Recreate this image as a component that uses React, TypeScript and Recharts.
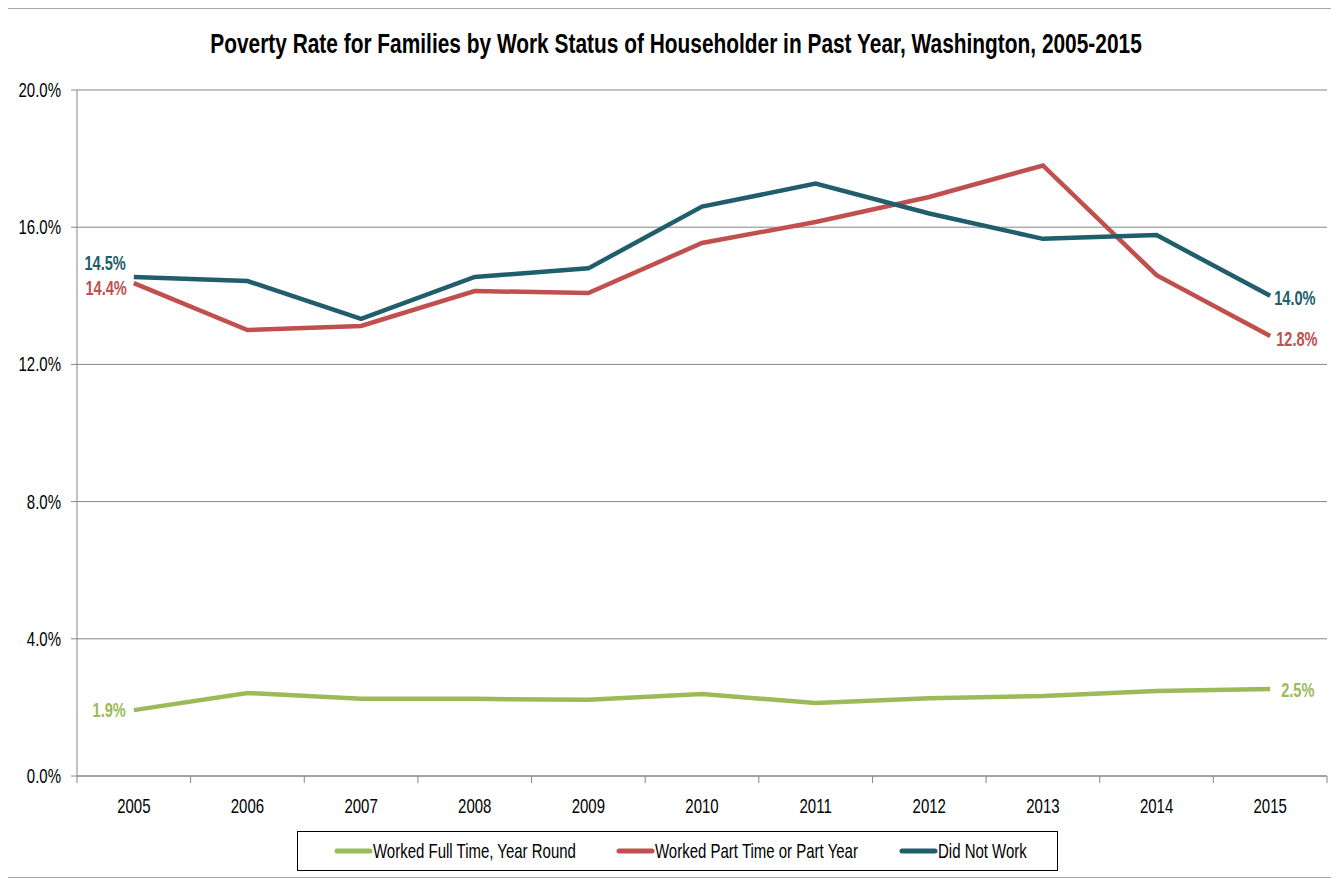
import { LineChart, Line, XAxis, YAxis, CartesianGrid } from 'recharts'

const years = ['2005', '2006', '2007', '2008', '2009', '2010', '2011', '2012', '2013', '2014', '2015']
const fullTime = [1.92, 2.42, 2.25, 2.25, 2.22, 2.39, 2.13, 2.27, 2.33, 2.48, 2.54]
const partTime = [14.37, 13.0, 13.12, 14.14, 14.08, 15.54, 16.15, 16.88, 17.8, 14.6, 12.83]
const didNotWork = [14.55, 14.43, 13.33, 14.55, 14.8, 16.6, 17.27, 16.4, 15.66, 15.77, 14.0]
const yTicks = [0, 4, 8, 12, 16, 20]

const series = [
    { key: 'full', name: 'Worked Full Time, Year Round', color: '#9BBB59', first: '1.9%', last: '2.5%', off: [[-8, 7], [11, 8]] },
    { key: 'part', name: 'Worked Part Time or Part Year', color: '#C0504D', first: '14.4%', last: '12.8%', off: [[-7, 12], [6, 10]] },
    { key: 'none', name: 'Did Not Work', color: '#215E6C', first: '14.5%', last: '14.0%', off: [[-8, -7], [4, 9]] },
]

const data = years.map((year, i) => ({
    year,
    full: fullTime[i],
    part: partTime[i],
    none: didNotWork[i],
}))

const FONT = '"Liberation Sans", Arial, sans-serif'
const SQUASH = 0.75
const AXIS = '#868686'

// narrow text: the chart uses a condensed face, so squeeze a regular one
function NText({ x, y, anchor = 'start', size = 20, bold = false, fill = '#000', squash = SQUASH, children }: any) {
    return (
        <text
            transform={`translate(${x},${y}) scale(${squash},1)`}
            textAnchor={anchor}
            fontFamily={FONT}
            fontSize={size}
            fontWeight={bold ? 'bold' : 'normal'}
            fill={fill}
        >
            {children}
        </text>
    )
}

function endLabel(s: (typeof series)[number]) {
    return (props: any) => {
        const { x, y, index } = props
        const last = years.length - 1
        if (index !== 0 && index !== last) return null
        const isFirst = index === 0
        const [dx, dy] = isFirst ? s.off[0] : s.off[1]
        return (
            <NText key={`${s.key}-${index}`} x={x + dx} y={y + dy} anchor={isFirst ? 'end' : 'start'} size={19.5} bold fill={s.color}>
                {isFirst ? s.first : s.last}
            </NText>
        )
    }
}

function XTick(props: any) {
    const { x, y, payload, index } = props
    const half = payload.offset || 0
    return (
        <g>
            <line x1={x - half} x2={x - half} y1={y} y2={y + 7} stroke={AXIS} />
            {index === years.length - 1 && <line x1={x + half} x2={x + half} y1={y} y2={y + 7} stroke={AXIS} />}
            <NText x={x} y={y + 37} anchor="middle">
                {payload.value}
            </NText>
        </g>
    )
}

function YTick(props: any) {
    const { x, y, payload } = props
    return (
        <NText x={x} y={y + 7} anchor="end">
            {`${Number(payload.value).toFixed(1)}%`}
        </NText>
    )
}

const legendX = [38, 320, 603]

function LegendBox() {
    return (
        <svg
            width={761}
            height={40}
            style={{ position: 'absolute', left: 289, top: 822 }}
        >
            <rect x={0.5} y={0.5} width={760} height={39} fill="#fff" stroke="#000" />
            {series.map((s, i) => (
                <g key={s.key}>
                    <line x1={legendX[i] + 2} x2={legendX[i] + 35} y1={20} y2={20} stroke={s.color} strokeWidth={5} strokeLinecap="round" />
                    <NText x={legendX[i] + 38} y={27}>
                        {s.name}
                    </NText>
                </g>
            ))}
        </svg>
    )
}

export default function App() {
    return (
        <div
            style={{
                position: 'relative',
                width: 1324,
                height: 868,
                border: '1px solid #A6A6A6',
                background: '#fff',
                marginLeft: -1,
            }}
        >
            <svg width={1324} height={80} style={{ position: 'absolute', left: 0, top: 0 }}>
                <NText x={668} y={44} anchor="middle" size={27} bold squash={0.774}>
                    Poverty Rate for Families by Work Status of Householder in Past Year, Washington, 2005-2015
                </NText>
            </svg>
            <LineChart
                width={1324}
                height={868}
                data={data}
                margin={{ top: 81, right: 5, bottom: 71, left: 9 }}
                style={{ position: 'absolute', top: 0, left: 0 }}
            >
                <CartesianGrid vertical={false} stroke={AXIS} strokeWidth={1} />
                <XAxis
                    dataKey="year"
                    scale="band"
                    height={30}
                    axisLine={{ stroke: AXIS }}
                    tickLine={false}
                    tickSize={0}
                    tickMargin={0}
                    interval={0}
                    tick={<XTick />}
                />
                <YAxis
                    domain={[0, 20]}
                    ticks={yTicks}
                    width={60}
                    tickSize={6}
                    tickMargin={10}
                    axisLine={{ stroke: AXIS }}
                    tickLine={{ stroke: AXIS }}
                    tick={<YTick />}
                />
                {series.map((s) => (
                    <Line
                        key={s.key}
                        dataKey={s.key}
                        name={s.name}
                        type="linear"
                        stroke={s.color}
                        strokeWidth={4.5}
                        dot={false}
                        activeDot={false}
                        isAnimationActive={false}
                        label={endLabel(s)}
                    />
                ))}
            </LineChart>
            <LegendBox />
        </div>
    )
}
